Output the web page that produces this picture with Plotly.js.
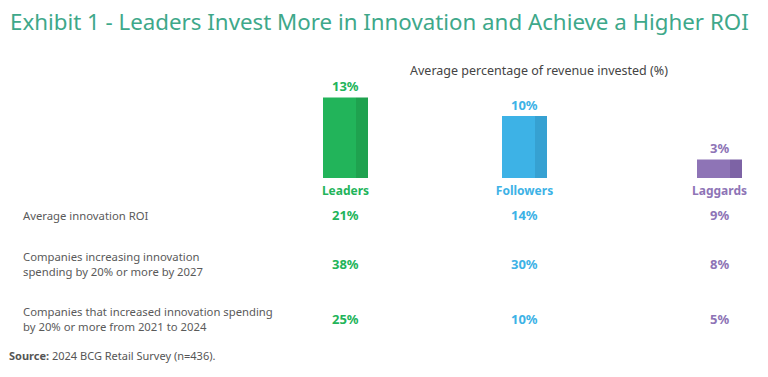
<!DOCTYPE html>
<html>
<head>
<meta charset="utf-8">
<script src="https://cdn.plot.ly/plotly-3.0.1.min.js"></script>
<style>html,body{margin:0;padding:0;background:#fff;}#chart{width:768px;height:377px;}</style>
</head>
<body>
<div id="chart"></div>
<script>
// ---- data ----
const groups = ['Leaders', 'Followers', 'Laggards'];
const investPct = [13, 10, 3];
const metricLabels = [
  'Average innovation ROI',
  'Companies increasing innovation<br>spending by 20% or more by 2027',
  'Companies that increased innovation spending<br>by 20% or more from 2021 to 2024'
];
const roiPct = [21, 14, 9];
const increase2027Pct = [38, 30, 8];
const increased2124Pct = [25, 10, 5];
const titleText = 'Exhibit 1 - Leaders Invest More in Innovation and Achieve a Higher ROI';
const subtitleText = 'Average percentage of revenue invested (%)';
const sourceText = '<b>Source:</b> 2024 BCG Retail Survey (n=436).';

// ---- styles ----
const lightColors = ['#22b45a', '#3db2e6', '#8e74b6'];
const darkColors = ['#1fa24f', '#36a1d2', '#7d63a5'];
const W = 768, H = 377;
const FONT = 'Noto Sans, sans-serif';
const px = v => v / W;
const py = v => 1 - v / H;
const centers = [345.5, 524.5, 719.5];
const halfDom = 40;
const axisIds = ['x', 'x2', 'x3'];
const axisKeys = ['xaxis', 'xaxis2', 'xaxis3'];
const rowY = [215, 264, 319];
const rowData = [roiPct, increase2027Pct, increased2124Pct];

const traces = [];
groups.forEach((g, i) => {
  traces.push({
    type: 'bar', x: [g], y: [investPct[i]], xaxis: axisIds[i], yaxis: 'y',
    width: 0.4125, offset: -0.28125,
    marker: {color: lightColors[i], line: {width: 0}},
    hoverinfo: 'skip', showlegend: false
  });
  traces.push({
    type: 'bar', x: [g], y: [investPct[i]], xaxis: axisIds[i], yaxis: 'y',
    width: 0.15, offset: 0.13125,
    marker: {color: darkColors[i], line: {width: 0}},
    hoverinfo: 'skip', showlegend: false
  });
});

const layout = {
  width: W, height: H,
  margin: {l: 0, r: 0, t: 0, b: 0},
  paper_bgcolor: '#fff', plot_bgcolor: 'rgba(0,0,0,0)',
  barmode: 'overlay',
  font: {family: FONT, color: '#555'},
  yaxis: {
    domain: [py(178), py(178 - 20 * 6.2)], range: [0, 20],
    visible: false, fixedrange: true, anchor: 'x'
  },
  annotations: [],
  showlegend: false
};
groups.forEach((g, i) => {
  layout[axisKeys[i]] = {
    type: 'category', domain: [px(centers[i] - halfDom), px(centers[i] + halfDom)],
    range: [-0.5, 0.5], anchor: 'y', showgrid: false, zeroline: false, showline: false,
    ticks: '', ticklabelstandoff: 4,
    tickfont: {family: FONT, size: 12, color: lightColors[i], weight: 'bold'},
    fixedrange: true
  };
  // bar value labels
  layout.annotations.push({
    xref: axisIds[i], yref: 'y', x: g, y: investPct[i], yanchor: 'bottom',
    text: '<b>' + investPct[i] + '%</b>', showarrow: false, yshift: 0,
    font: {family: FONT, size: 13, color: lightColors[i]}
  });
  // table values
  rowData.forEach((arr, r) => {
    layout.annotations.push({
      xref: axisIds[i], yref: 'paper', x: g, y: py(rowY[r]), yanchor: 'middle',
      text: '<b>' + arr[i] + '%</b>', showarrow: false,
      font: {family: FONT, size: 13, color: lightColors[i]}
    });
  });
});
metricLabels.forEach((t, r) => {
  layout.annotations.push({
    xref: 'paper', yref: 'paper', x: px(21), y: py(rowY[r]), xanchor: 'left', yanchor: 'middle',
    align: 'left', text: t, showarrow: false,
    font: {family: FONT, size: 11.3, color: '#5a5a5a'}
  });
});
layout.annotations.push({
  xref: 'paper', yref: 'paper', x: px(539), y: py(71), xanchor: 'center', yanchor: 'middle',
  text: subtitleText, showarrow: false, font: {family: FONT, size: 12.5, color: '#444'}
});
layout.annotations.push({
  xref: 'paper', yref: 'paper', x: px(7), y: py(355), xanchor: 'left', yanchor: 'middle',
  text: sourceText, showarrow: false, font: {family: FONT, size: 11, color: '#555'}
});
layout.annotations.push({
  xref: 'paper', yref: 'paper', x: px(8), y: py(22), xanchor: 'left', yanchor: 'middle',
  text: titleText, showarrow: false, font: {family: FONT, size: 22.3, color: '#3ea88a'}
});

Plotly.newPlot('chart', traces, layout, {displayModeBar: false, staticPlot: true});
</script>
</body>
</html>
